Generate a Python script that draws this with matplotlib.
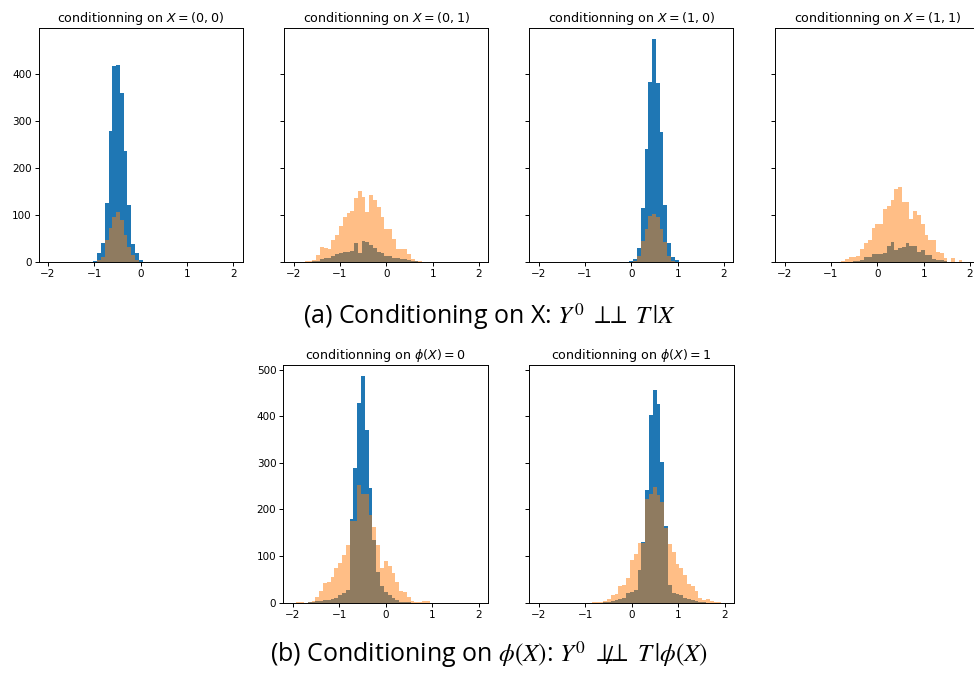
import numpy as np
import matplotlib.pyplot as plt

# 49 equal bins on [-2, 2]
edges = np.linspace(-2, 2, 50)

# ---- (a) conditioning on X ----
titles_a = ["conditionning on $X=(0,0)$", "conditionning on $X=(0,1)$",
            "conditionning on $X=(1,0)$", "conditionning on $X=(1,1)$"]

blue_00 = [0] * 12 + [2, 20, 41, 126, 277, 415, 419, 358, 236, 122, 38, 20, 4] + [0] * 24
orange_00 = [0] * 12 + [1, 4, 11, 47, 72, 96, 107, 89, 57, 32, 15, 4, 1] + [0] * 24

blue_01 = [0] * 5 + [2, 3, 6, 8, 8, 13, 17, 20, 22, 22, 24, 40, 20, 44, 42, 36, 29, 22, 20, 13,
                     13, 9, 8, 7, 6, 4, 3, 2] + [0, 0, 0, 1] + [0] * 12
orange_01 = [1, 1, 0, 3, 3, 4, 14, 31, 29, 28, 47, 58, 76, 96, 103, 109, 135, 151, 137, 106,
             143, 132, 117, 96, 69, 69, 48, 28, 28, 28, 18, 7, 3, 3] + [0] * 15

blue_10 = [0] * 24 + [2, 6, 29, 115, 240, 381, 473, 379, 275, 122, 40, 11, 4] + [0] * 12
orange_10 = [0] * 24 + [1, 2, 12, 45, 70, 98, 102, 95, 69, 42, 12, 3, 1] + [0] * 12

blue_11 = [0] * 17 + [1, 2, 2, 5, 10, 11, 18, 16, 16, 20, 33, 42, 26, 30, 32, 40, 33, 33, 22,
                      25, 15, 15, 6, 5, 4, 2, 1] + [0] * 5
orange_11 = [0] * 15 + [2, 6, 11, 10, 12, 28, 40, 47, 72, 80, 80, 113, 118, 131, 154, 160, 127,
                        127, 91, 109, 99, 80, 57, 46, 46, 21, 20, 9, 1, 9, 1, 4] + [0] * 2

# ---- (b) conditioning on phi(X) ----
titles_b = [r"conditionning on $\phi(X)=0$", r"conditionning on $\phi(X)=1$"]

blue_p0 = [0] * 4 + [1, 1, 4, 4, 6, 6, 8, 11, 16, 20, 27, 179, 288, 429, 486, 370, 246, 134, 66,
                     36, 22, 16, 11, 6, 2, 1, 1] + [0] * 18
orange_p0 = [0, 1, 1, 0, 2, 4, 12, 25, 43, 45, 56, 74, 86, 102, 124, 176, 176, 252, 234, 234,
             188, 163, 124, 75, 89, 79, 63, 45, 25, 24, 13, 4, 1, 1, 3, 3] + [0] * 13

blue_p1 = [0] * 17 + [1, 2, 3, 6, 9, 10, 20, 24, 27, 70, 131, 241, 402, 457, 426, 302, 165, 39,
                      20, 19, 16, 11, 9, 6, 4, 2, 1] + [0] * 5
orange_p1 = [0] * 14 + [1, 1, 2, 3, 7, 16, 18, 36, 39, 54, 91, 104, 129, 129, 222, 234, 248, 230,
                        215, 160, 125, 109, 82, 74, 59, 41, 36, 25, 11, 6, 8, 4, 2, 1] + [0]

caption_a = r"(a) Conditioning on X: $Y^0\ \perp\!\!\!\perp\ T\,|X$"
caption_b = r"(b) Conditioning on $\phi(X)$: $Y^0\ \perp\!\!\!\perp\ T\,|\phi(X)$"

W, H = 974, 678
fig = plt.figure(figsize=(W / 100, H / 100), dpi=100)


def add_px_axes(left, top, width, height, sharey=None):
    return fig.add_axes([left / W, 1 - (top + height) / H, width / W, height / H], sharey=sharey)


def draw_hist(ax, blue, orange, title):
    widths = np.diff(edges)
    ax.bar(edges[:-1], blue, width=widths, align='edge', color='#1f77b4')
    ax.bar(edges[:-1], orange, width=widths, align='edge', color='#ff7f0e', alpha=0.5)
    ax.set_xticks([-2, -1, 0, 1, 2])
    ax.set_title(title, fontsize=9.1, pad=4)
    ax.tick_params(labelsize=7.5, length=3, width=0.7, pad=2)
    for s in ax.spines.values():
        s.set_linewidth(0.7)


top_data = [(blue_00, orange_00), (blue_01, orange_01), (blue_10, orange_10), (blue_11, orange_11)]
lefts_a = [38.7, 284.3, 529.3, 775.3]
first = None
for i, (b, o) in enumerate(top_data):
    ax = add_px_axes(lefts_a[i], 28, 204, 234, sharey=first)
    draw_hist(ax, b, o, titles_a[i])
    if first is None:
        first = ax
    else:
        ax.tick_params(labelleft=False)

bottom_data = [(blue_p0, orange_p0), (blue_p1, orange_p1)]
lefts_b = [283.3, 529.3]
first = None
for i, (b, o) in enumerate(bottom_data):
    ax = add_px_axes(lefts_b[i], 364.7, 205, 238, sharey=first)
    draw_hist(ax, b, o, titles_b[i])
    if first is None:
        first = ax
    else:
        ax.tick_params(labelleft=False)

cap_kw = dict(ha='center', va='baseline', fontsize=18, family='Open Sans', math_fontfamily='stix')
fig.text(490 / W, 1 - 324 / H, caption_a, **cap_kw)
cap_b = fig.text(489 / W, 1 - 662 / H, caption_b, **cap_kw)

# slash through the independence sign for "not independent"
fig.canvas.draw()
renderer = fig.canvas.get_renderer()
pre = fig.text(0, 0, r"(b) Conditioning on $\phi(X)$: $Y^0\ \perp\!\!\!\perp$", **cap_kw)
sym = fig.text(0, 0, r"$\perp\!\!\!\perp$", **cap_kw)
w_pre = pre.get_window_extent(renderer).width
w_sym = sym.get_window_extent(renderer).width
pre.remove()
sym.remove()
x_left = cap_b.get_window_extent(renderer).x0
x_mid = x_left + w_pre - w_sym / 2
fig.text(x_mid / fig.bbox.width, 1 - 664 / H, r"$/$", **cap_kw)

fig.savefig("out.png", dpi=100)
